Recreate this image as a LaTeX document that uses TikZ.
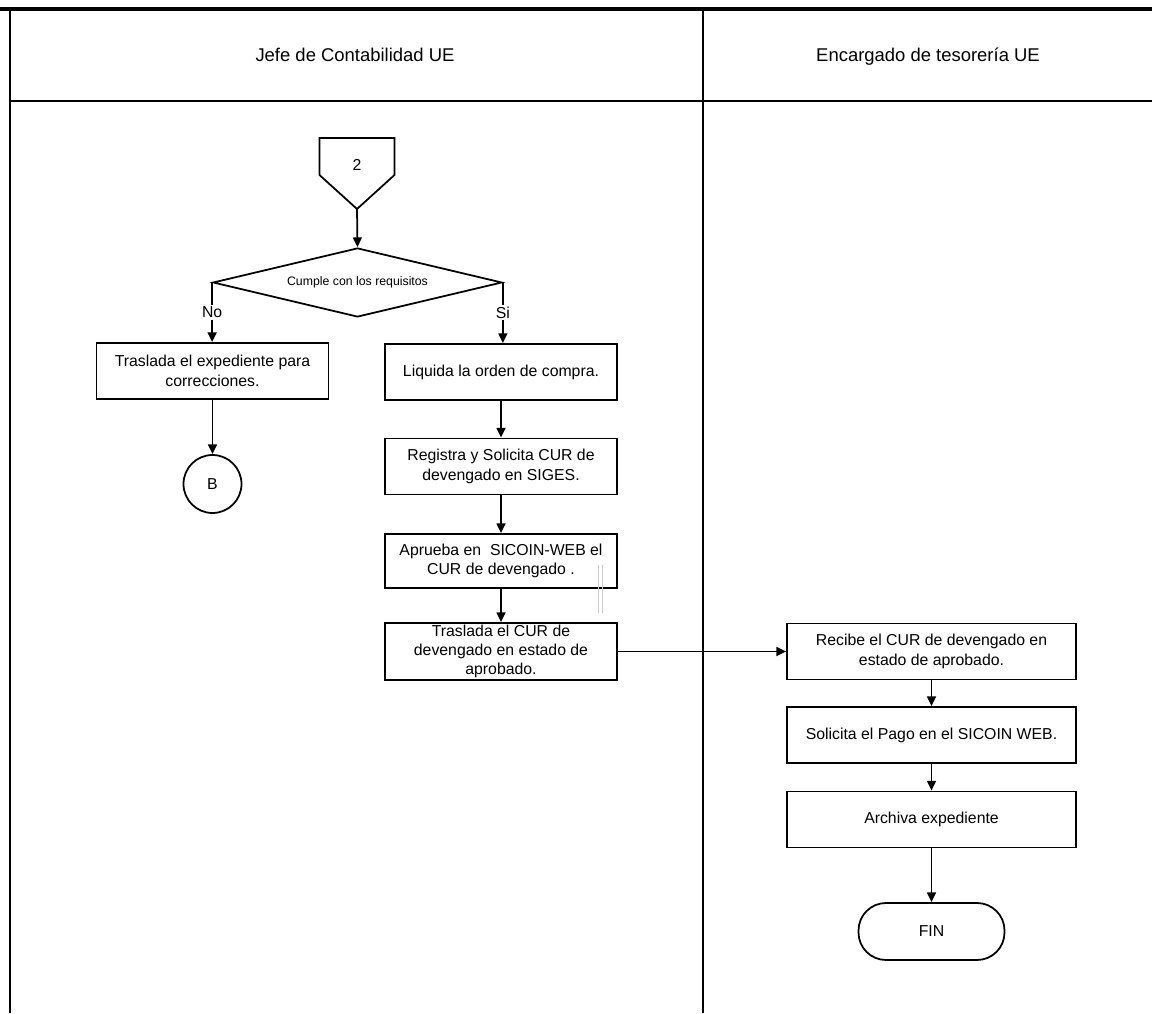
\documentclass[tikz,border=0pt]{standalone}
\usepackage{fontspec}
\setmainfont{Liberation Sans}
\usetikzlibrary{shapes.geometric, arrows.meta, positioning}

\begin{document}
\begin{tikzpicture}[
  caja/.style={draw, line width=1pt, minimum width=4.64cm, minimum height=1.12cm, inner sep=1pt, align=center, font=\fontsize{9}{11}\selectfont},
  cajader/.style={caja, minimum width=5.78cm},
  flecha/.style={-{Triangle[length=5.5pt, width=5pt]}, line width=1pt},
  etiqueta/.style={fill=white, inner sep=1pt, font=\fontsize{9}{11}\selectfont},
  carril/.style={line width=1.1pt},
  titulo/.style={font=\fontsize{10.5}{12}\selectfont, text height=1.6ex, text depth=0.3ex}
]
  \useasboundingbox (0,0) rectangle (23.04,20.26);

  \draw[line width=2pt] (0,20.08) -- (23.04,20.08);
  \draw[carril] (0.2,20.08) -- (0.2,0);
  \draw[carril] (14.06,20.08) -- (14.06,0);
  \draw[carril] (0.2,18.24) -- (23.04,18.24);

  \node[titulo] (jefe) at (7.1,19.16) {Jefe de Contabilidad UE};
  \node[titulo] (encargado) at (18.56,19.16) {Encargado de tesorería UE};

  \draw[line width=1pt] (6.39,17.5) -- (7.89,17.5) -- (7.89,16.76) -- (7.14,16.08) -- (6.39,16.76) -- cycle;
  \node[font=\fontsize{9}{11}\selectfont] (conector) at (7.14,16.96) {2};
  \coordinate (puntaconector) at (7.14,16.08);

  \node[draw, diamond, aspect=4.2, minimum width=5.78cm, minimum height=1.38cm, inner sep=0pt, line width=1pt, font=\fontsize{7}{8}\selectfont] (cumple) at (7.15,14.61) {Cumple con los requisitos};

  \node[caja] (traslada) at (4.25,12.84) {Traslada el expediente para\\correcciones.};
  \node[draw, circle, line width=1pt, minimum size=1.16cm, inner sep=0pt, font=\fontsize{9}{11}\selectfont] (b) at (4.25,10.58) {B};

  \node[caja] (liquida) at (10.02,12.82) {Liquida la orden de compra.};
  \node[caja] (registra) at (10.02,10.93) {Registra y Solicita CUR de\\devengado en SIGES.};
  \node[caja, minimum height=1.08cm] (aprueba) at (10.02,9.04) {Aprueba en\ \ SICOIN-WEB el\\CUR de devengado .};
  \node[caja, minimum height=1.14cm, inner sep=0pt, font=\fontsize{9}{10.6}\selectfont] (trasladacur) at (10.02,7.23) {Traslada el CUR de\\devengado en estado de\\aprobado.};

  \draw[gray!40, line width=0.3pt] (11.96,8.96) -- (11.96,8.0);
  \draw[gray!40, line width=0.3pt] (12.04,8.96) -- (12.04,8.0);

  \node[cajader] (recibe) at (18.63,7.23) {Recibe el CUR de devengado en\\estado de aprobado.};
  \node[cajader] (solicita) at (18.63,5.56) {Solicita el Pago en el SICOIN WEB.};
  \node[cajader] (archiva) at (18.63,3.87) {Archiva expediente};
  \node[draw, line width=1pt, rounded corners=0.55cm, minimum width=2.92cm, minimum height=1.14cm, font=\fontsize{9}{11}\selectfont] (fin) at (18.63,1.63) {FIN};

  \draw[flecha] (puntaconector) -- (cumple.north);
  \draw[flecha] (cumple.west) -- node[etiqueta] {No} (cumple.west |- traslada.north);
  \draw[flecha] (cumple.east) -- node[etiqueta] {Si} (cumple.east |- liquida.north);
  \draw[flecha] (traslada) -- (b);
  \draw[flecha] (liquida) -- (registra);
  \draw[flecha] (registra) -- (aprueba);
  \draw[flecha] (aprueba) -- (trasladacur);
  \draw[flecha] (trasladacur) -- (recibe);
  \draw[flecha] (recibe) -- (solicita);
  \draw[flecha] (solicita) -- (archiva);
  \draw[flecha] (archiva) -- (fin);
\end{tikzpicture}
\end{document}
